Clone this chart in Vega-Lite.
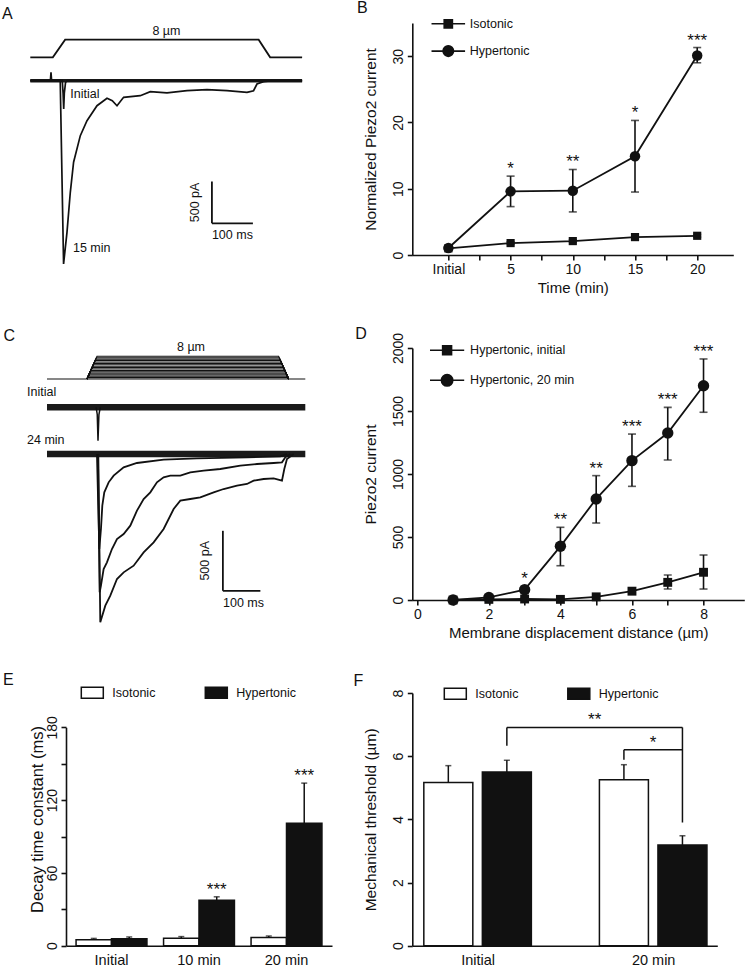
{
  "$schema": "https://vega.github.io/schema/vega-lite/v6.json",
  "background": "white",
  "padding": {"left": 2, "top": 0, "right": 0, "bottom": 0},
  "columns": 2,
  "align": "each",
  "bounds": "flush",
  "spacing": {"row": 20, "column": 80.3},
  "config": {
    "font": "Liberation Sans",
    "view": {"stroke": null},
    "axis": {"grid": false, "domainColor": "#111", "domainWidth": 1.6, "tickColor": "#111", "tickWidth": 1.6, "tickSize": 5, "labelColor": "#111", "labelFontSize": 14, "labelPadding": 2, "titleColor": "#111", "titleFontSize": 15, "titleFontWeight": "normal"},
    "axisY": {"titleFontSize": 15.5},
    "legend": {"labelFontSize": 12.5, "labelColor": "#111", "padding": 0},
    "title": {"fontSize": 16, "fontWeight": "normal", "color": "#111", "anchor": "start", "frame": "group", "offset": 0},
    "text": {"color": "#111"}
  },
  "resolve": {"scale": {"shape": "independent", "fill": "independent", "xOffset": "independent"}},
  "datasets": {
    "A_curr": [
      {"trace": "baseline", "t": 0, "pA": 0}, {"trace": "baseline", "t": 663, "pA": 0},
      {"trace": "Initial", "t": 0, "pA": 0}, {"trace": "Initial", "t": 49, "pA": 0}, {"trace": "Initial", "t": 50.5, "pA": 100}, {"trace": "Initial", "t": 52, "pA": 0},
      {"trace": "Initial", "t": 78, "pA": 0}, {"trace": "Initial", "t": 80, "pA": -150}, {"trace": "Initial", "t": 81.5, "pA": -340}, {"trace": "Initial", "t": 83, "pA": -150},
      {"trace": "Initial", "t": 86, "pA": -20}, {"trace": "Initial", "t": 90, "pA": 0}, {"trace": "Initial", "t": 663, "pA": 0},
      {"trace": "15 min", "t": 0, "pA": 0}, {"trace": "15 min", "t": 73, "pA": 0}, {"trace": "15 min", "t": 81.2, "pA": -2198}, {"trace": "15 min", "t": 89.5, "pA": -1818},
      {"trace": "15 min", "t": 97.6, "pA": -1338}, {"trace": "15 min", "t": 105.6, "pA": -978}, {"trace": "15 min", "t": 122, "pA": -659}, {"trace": "15 min", "t": 138.3, "pA": -480},
      {"trace": "15 min", "t": 162.7, "pA": -300}, {"trace": "15 min", "t": 187.1, "pA": -211}, {"trace": "15 min", "t": 200, "pA": -240}, {"trace": "15 min", "t": 211.5, "pA": -300},
      {"trace": "15 min", "t": 227.6, "pA": -199}, {"trace": "15 min", "t": 268.3, "pA": -180}, {"trace": "15 min", "t": 292.7, "pA": -132}, {"trace": "15 min", "t": 333.4, "pA": -147},
      {"trace": "15 min", "t": 382.2, "pA": -120}, {"trace": "15 min", "t": 431, "pA": -108}, {"trace": "15 min", "t": 479.8, "pA": -120}, {"trace": "15 min", "t": 528.5, "pA": -139},
      {"trace": "15 min", "t": 544.6, "pA": -120}, {"trace": "15 min", "t": 552.9, "pA": -40}, {"trace": "15 min", "t": 569, "pA": -12}, {"trace": "15 min", "t": 590, "pA": 0}, {"trace": "15 min", "t": 663, "pA": 0}
    ],
    "C_stim": [
      {"h": 0, "t": 0, "um": 0}, {"h": 0, "t": 688.8, "um": 0},
      {"h": 0.5, "t": 106.7, "um": 0}, {"h": 0.5, "t": 108.4, "um": 0.5}, {"h": 0.5, "t": 642.6, "um": 0.5}, {"h": 0.5, "t": 644.3, "um": 0},
      {"h": 1, "t": 106.7, "um": 0}, {"h": 1, "t": 110.0, "um": 1}, {"h": 1, "t": 641.0, "um": 1}, {"h": 1, "t": 644.3, "um": 0},
      {"h": 1.5, "t": 106.7, "um": 0}, {"h": 1.5, "t": 111.7, "um": 1.5}, {"h": 1.5, "t": 639.3, "um": 1.5}, {"h": 1.5, "t": 644.3, "um": 0},
      {"h": 2, "t": 106.7, "um": 0}, {"h": 2, "t": 113.4, "um": 2}, {"h": 2, "t": 637.6, "um": 2}, {"h": 2, "t": 644.3, "um": 0},
      {"h": 2.5, "t": 106.7, "um": 0}, {"h": 2.5, "t": 115.0, "um": 2.5}, {"h": 2.5, "t": 636.0, "um": 2.5}, {"h": 2.5, "t": 644.3, "um": 0},
      {"h": 3, "t": 106.7, "um": 0}, {"h": 3, "t": 116.7, "um": 3}, {"h": 3, "t": 634.3, "um": 3}, {"h": 3, "t": 644.3, "um": 0},
      {"h": 3.5, "t": 106.7, "um": 0}, {"h": 3.5, "t": 118.4, "um": 3.5}, {"h": 3.5, "t": 632.6, "um": 3.5}, {"h": 3.5, "t": 644.3, "um": 0},
      {"h": 4, "t": 106.7, "um": 0}, {"h": 4, "t": 120.0, "um": 4}, {"h": 4, "t": 631.0, "um": 4}, {"h": 4, "t": 644.3, "um": 0},
      {"h": 4.5, "t": 106.7, "um": 0}, {"h": 4.5, "t": 121.7, "um": 4.5}, {"h": 4.5, "t": 629.3, "um": 4.5}, {"h": 4.5, "t": 644.3, "um": 0},
      {"h": 5, "t": 106.7, "um": 0}, {"h": 5, "t": 123.4, "um": 5}, {"h": 5, "t": 627.7, "um": 5}, {"h": 5, "t": 644.3, "um": 0},
      {"h": 5.5, "t": 106.7, "um": 0}, {"h": 5.5, "t": 125.0, "um": 5.5}, {"h": 5.5, "t": 626.0, "um": 5.5}, {"h": 5.5, "t": 644.3, "um": 0},
      {"h": 6, "t": 106.7, "um": 0}, {"h": 6, "t": 126.7, "um": 6}, {"h": 6, "t": 624.3, "um": 6}, {"h": 6, "t": 644.3, "um": 0},
      {"h": 6.5, "t": 106.7, "um": 0}, {"h": 6.5, "t": 128.4, "um": 6.5}, {"h": 6.5, "t": 622.7, "um": 6.5}, {"h": 6.5, "t": 644.3, "um": 0},
      {"h": 7, "t": 106.7, "um": 0}, {"h": 7, "t": 130.0, "um": 7}, {"h": 7, "t": 621.0, "um": 7}, {"h": 7, "t": 644.3, "um": 0},
      {"h": 7.5, "t": 106.7, "um": 0}, {"h": 7.5, "t": 131.7, "um": 7.5}, {"h": 7.5, "t": 619.3, "um": 7.5}, {"h": 7.5, "t": 644.3, "um": 0},
      {"h": 8, "t": 106.7, "um": 0}, {"h": 8, "t": 133.3, "um": 8}, {"h": 8, "t": 617.7, "um": 8}, {"h": 8, "t": 644.3, "um": 0}
    ],
    "C_init": [
      {"trace": "baseline", "t": 0, "pA": 0}, {"trace": "baseline", "t": 688.8, "pA": 0},
      {"trace": "dip", "t": 131, "pA": 0}, {"trace": "dip", "t": 134, "pA": -60}, {"trace": "dip", "t": 136, "pA": -278}, {"trace": "dip", "t": 138.5, "pA": -60}, {"trace": "dip", "t": 142, "pA": 0}
    ],
    "C_24": [
      {"trace": "baseline", "t": 0, "pA": 0}, {"trace": "baseline", "t": 688.8, "pA": 0},
      {"trace": "fast", "t": 133.2, "pA": 0}, {"trace": "fast", "t": 139.5, "pA": -791.7}, {"trace": "fast", "t": 143.9, "pA": -625}, {"trace": "fast", "t": 147.5, "pA": -430.6},
      {"trace": "fast", "t": 152.8, "pA": -319.4}, {"trace": "fast", "t": 164.4, "pA": -236.1}, {"trace": "fast", "t": 177.7, "pA": -180.6}, {"trace": "fast", "t": 204.4, "pA": -111.1},
      {"trace": "fast", "t": 239.9, "pA": -75}, {"trace": "fast", "t": 311.0, "pA": -47.2}, {"trace": "fast", "t": 399.9, "pA": -36.1}, {"trace": "fast", "t": 533.3, "pA": -27.8},
      {"trace": "fast", "t": 622.1, "pA": -19.4}, {"trace": "fast", "t": 639.9, "pA": 0},
      {"trace": "medium", "t": 135.9, "pA": 0}, {"trace": "medium", "t": 140.4, "pA": -1152.9}, {"trace": "medium", "t": 143.9, "pA": -1097.3}, {"trace": "medium", "t": 151.0, "pA": -958.4},
      {"trace": "medium", "t": 159.9, "pA": -902.9}, {"trace": "medium", "t": 173.2, "pA": -791.7}, {"trace": "medium", "t": 186.6, "pA": -708.4}, {"trace": "medium", "t": 204.4, "pA": -666.7},
      {"trace": "medium", "t": 222.1, "pA": -597.3}, {"trace": "medium", "t": 239.9, "pA": -472.3}, {"trace": "medium", "t": 257.7, "pA": -375}, {"trace": "medium", "t": 275.5, "pA": -319.5},
      {"trace": "medium", "t": 293.2, "pA": -236.1}, {"trace": "medium", "t": 311.0, "pA": -194.5}, {"trace": "medium", "t": 328.8, "pA": -180.6}, {"trace": "medium", "t": 355.5, "pA": -180.6},
      {"trace": "medium", "t": 382.1, "pA": -152.8}, {"trace": "medium", "t": 417.7, "pA": -138.9}, {"trace": "medium", "t": 462.1, "pA": -125}, {"trace": "medium", "t": 515.5, "pA": -97.2},
      {"trace": "medium", "t": 559.9, "pA": -83.4}, {"trace": "medium", "t": 604.4, "pA": -75}, {"trace": "medium", "t": 626.6, "pA": -69.5}, {"trace": "medium", "t": 635.5, "pA": -27.8}, {"trace": "medium", "t": 648.8, "pA": 0},
      {"trace": "slow", "t": 136.8, "pA": 0}, {"trace": "slow", "t": 142.1, "pA": -1402.9}, {"trace": "slow", "t": 155.5, "pA": -1264}, {"trace": "slow", "t": 168.8, "pA": -1180.7},
      {"trace": "slow", "t": 186.6, "pA": -1041.8}, {"trace": "slow", "t": 204.4, "pA": -986.2}, {"trace": "slow", "t": 231.0, "pA": -930.6}, {"trace": "slow", "t": 257.7, "pA": -819.5},
      {"trace": "slow", "t": 284.4, "pA": -736.2}, {"trace": "slow", "t": 311.0, "pA": -625}, {"trace": "slow", "t": 337.7, "pA": -458.4}, {"trace": "slow", "t": 355.5, "pA": -389},
      {"trace": "slow", "t": 382.1, "pA": -375}, {"trace": "slow", "t": 408.8, "pA": -361.2}, {"trace": "slow", "t": 444.4, "pA": -319.5}, {"trace": "slow", "t": 471.0, "pA": -291.7},
      {"trace": "slow", "t": 506.6, "pA": -263.9}, {"trace": "slow", "t": 533.3, "pA": -250}, {"trace": "slow", "t": 551.0, "pA": -222.3}, {"trace": "slow", "t": 577.7, "pA": -208.4},
      {"trace": "slow", "t": 604.4, "pA": -202.8}, {"trace": "slow", "t": 626.6, "pA": -222.3}, {"trace": "slow", "t": 632.8, "pA": -125}, {"trace": "slow", "t": 639.9, "pA": -41.7}, {"trace": "slow", "t": 657.7, "pA": 0}
    ],
    "B_rows": [
      {"time": 0, "series": "Isotonic", "mean": 1.0, "lo": 0.85, "hi": 1.15, "sig": ""},
      {"time": 5, "series": "Isotonic", "mean": 1.8, "lo": 1.6, "hi": 2.0, "sig": ""},
      {"time": 10, "series": "Isotonic", "mean": 2.1, "lo": 1.9, "hi": 2.3, "sig": ""},
      {"time": 15, "series": "Isotonic", "mean": 2.7, "lo": 2.5, "hi": 2.9, "sig": ""},
      {"time": 20, "series": "Isotonic", "mean": 2.9, "lo": 2.7, "hi": 3.1, "sig": ""},
      {"time": 0, "series": "Hypertonic", "mean": 1.05, "lo": 0.9, "hi": 1.2, "sig": ""},
      {"time": 5, "series": "Hypertonic", "mean": 9.6, "lo": 7.3, "hi": 11.9, "sig": "*"},
      {"time": 10, "series": "Hypertonic", "mean": 9.7, "lo": 6.5, "hi": 12.9, "sig": "**"},
      {"time": 15, "series": "Hypertonic", "mean": 14.9, "lo": 9.5, "hi": 20.3, "sig": "*"},
      {"time": 20, "series": "Hypertonic", "mean": 30.1, "lo": 29.0, "hi": 31.3, "sig": "***"}
    ],
    "D_rows": [
      {"dist": 1, "series": "Hypertonic, initial", "mean": 0, "lo": 0, "hi": 0, "sig": ""},
      {"dist": 2, "series": "Hypertonic, initial", "mean": 5, "lo": 0, "hi": 10, "sig": ""},
      {"dist": 3, "series": "Hypertonic, initial", "mean": 8, "lo": 0, "hi": 15, "sig": ""},
      {"dist": 4, "series": "Hypertonic, initial", "mean": 5, "lo": 0, "hi": 12, "sig": ""},
      {"dist": 5, "series": "Hypertonic, initial", "mean": 25, "lo": 10, "hi": 40, "sig": ""},
      {"dist": 6, "series": "Hypertonic, initial", "mean": 70, "lo": 50, "hi": 90, "sig": ""},
      {"dist": 7, "series": "Hypertonic, initial", "mean": 140, "lo": 87, "hi": 198, "sig": ""},
      {"dist": 8, "series": "Hypertonic, initial", "mean": 220, "lo": 87, "hi": 357, "sig": ""},
      {"dist": 1, "series": "Hypertonic, 20 min", "mean": 0, "lo": 0, "hi": 0, "sig": ""},
      {"dist": 2, "series": "Hypertonic, 20 min", "mean": 20, "lo": 5, "hi": 35, "sig": ""},
      {"dist": 3, "series": "Hypertonic, 20 min", "mean": 82, "lo": 55, "hi": 110, "sig": "*"},
      {"dist": 4, "series": "Hypertonic, 20 min", "mean": 426, "lo": 272, "hi": 577, "sig": "**"},
      {"dist": 5, "series": "Hypertonic, 20 min", "mean": 802, "lo": 611, "hi": 987, "sig": "**"},
      {"dist": 6, "series": "Hypertonic, 20 min", "mean": 1106, "lo": 902, "hi": 1317, "sig": "***"},
      {"dist": 7, "series": "Hypertonic, 20 min", "mean": 1325, "lo": 1111, "hi": 1529, "sig": "***"},
      {"dist": 8, "series": "Hypertonic, 20 min", "mean": 1701, "lo": 1490, "hi": 1913, "sig": "***"}
    ],
    "F_rows": [
      {"group": "Initial", "series": "Isotonic", "pos": 1, "mean": 5.17, "hi": 5.7},
      {"group": "Initial", "series": "Hypertonic", "pos": 2, "mean": 5.5, "hi": 5.87},
      {"group": "20 min", "series": "Isotonic", "pos": 4, "mean": 5.25, "hi": 5.73},
      {"group": "20 min", "series": "Hypertonic", "pos": 5, "mean": 3.19, "hi": 3.48}
    ]
  },
  "concat": [
    {
      "width": 266, "height": 305,
      "title": {"text": "A", "dx": -64, "dy": 3},
      "resolve": {"scale": {"y": "independent"}},
      "layer": [
        {
          "layer": [
            {"data": {"values": [{"t": 0, "um": 0}, {"t": 55, "um": 0}, {"t": 85, "um": 8}, {"t": 557, "um": 8}, {"t": 585, "um": 0}, {"t": 663, "um": 0}]},
             "mark": {"type": "line", "color": "#111", "strokeWidth": 1.8},
             "encoding": {"x": {"field": "t", "type": "quantitative", "scale": {"domain": [87.1, 735.9], "nice": false, "zero": false}, "axis": null},
                          "y": {"field": "um", "type": "quantitative", "scale": {"domain": [-123.05, 15.59], "nice": false, "zero": false}, "axis": null}}},
            {"data": {"values": [{"t": 332, "um": 12.1, "label": "8 µm"}]},
             "mark": {"type": "text", "fontSize": 12.5, "align": "center", "baseline": "middle"},
             "encoding": {"x": {"field": "t", "type": "quantitative"}, "y": {"field": "um", "type": "quantitative"}, "text": {"field": "label"}}}
          ]
        },
        {
          "layer": [
            {"data": {"name": "A_curr"}, "transform": [{"filter": "datum.trace === 'baseline'"}],
             "mark": {"type": "line", "color": "#1a1a1a", "strokeWidth": 3.5},
             "encoding": {"x": {"field": "t", "type": "quantitative"},
                          "y": {"field": "pA", "type": "quantitative", "scale": {"domain": [-2965.2, 691.8], "nice": false, "zero": false}, "axis": null}}},
            {"data": {"name": "A_curr"}, "transform": [{"filter": "datum.trace !== 'baseline'"}],
             "mark": {"type": "line", "color": "#111", "strokeWidth": 1.7},
             "encoding": {"x": {"field": "t", "type": "quantitative"}, "y": {"field": "pA", "type": "quantitative"}, "detail": {"field": "trace"}}},
            {"data": {"values": [{"t": 443, "t2": 443, "pA": -1210, "pA2": -1710}, {"t": 443, "t2": 543, "pA": -1710, "pA2": -1710}]},
             "mark": {"type": "rule", "color": "#111", "strokeWidth": 1.8},
             "encoding": {"x": {"field": "t", "type": "quantitative"}, "x2": {"field": "t2"}, "y": {"field": "pA", "type": "quantitative"}, "y2": {"field": "pA2"}}},
            {"data": {"values": [{"t": 97.6, "pA": -160, "label": "Initial"}, {"t": 104, "pA": -2006, "label": "15 min"}]},
             "mark": {"type": "text", "fontSize": 12.5, "align": "left", "baseline": "middle"},
             "encoding": {"x": {"field": "t", "type": "quantitative"}, "y": {"field": "pA", "type": "quantitative"}, "text": {"field": "label"}}},
            {"data": {"values": [{"t": 419.5, "pA": -1460, "label": "500 pA"}]},
             "mark": {"type": "text", "fontSize": 12.5, "angle": 270, "align": "center", "baseline": "bottom"},
             "encoding": {"x": {"field": "t", "type": "quantitative"}, "y": {"field": "pA", "type": "quantitative"}, "text": {"field": "label"}}},
            {"data": {"values": [{"t": 493, "pA": -1710, "label": "100 ms"}]},
             "mark": {"type": "text", "fontSize": 12.5, "align": "center", "baseline": "top", "dy": 6},
             "encoding": {"x": {"field": "t", "type": "quantitative"}, "y": {"field": "pA", "type": "quantitative"}, "text": {"field": "label"}}}
          ]
        }
      ]
    },
    {
      "width": 321, "height": 232,
      "title": {"text": "B", "dx": -55.3, "dy": 3},
      "data": {"name": "B_rows"},
      "resolve": {"scale": {"fill": "independent"}},
      "encoding": {
        "x": {"field": "time", "type": "quantitative", "title": "Time (min)", "scale": {"domain": [-2.5, 22.5], "nice": false, "zero": false},
              "axis": {"values": [0, 2.5, 5, 7.5, 10, 12.5, 15, 17.5, 20], "labelExpr": "datum.value == 0 ? 'Initial' : (datum.value % 5 == 0 ? datum.label : '')", "labelFlush": false, "titlePadding": 4}}
      },
      "layer": [
        {"mark": {"type": "rule", "color": "#111", "strokeWidth": 1.6},
         "encoding": {"y": {"field": "lo", "type": "quantitative", "title": "Normalized Piezo2 current", "scale": {"domain": [0, 35], "nice": false},
                            "axis": {"values": [0, 5, 10, 15, 20, 25, 30, 35], "labelExpr": "datum.value % 10 == 0 ? datum.label : ''", "labelAngle": -90, "titlePadding": 13}},
                      "y2": {"field": "hi"}}},
        {"mark": {"type": "tick", "orient": "horizontal", "color": "#111", "size": 8, "thickness": 1.6},
         "encoding": {"y": {"field": "hi", "type": "quantitative", "title": "Normalized Piezo2 current"}}},
        {"mark": {"type": "tick", "orient": "horizontal", "color": "#111", "size": 8, "thickness": 1.6},
         "encoding": {"y": {"field": "lo", "type": "quantitative", "title": "Normalized Piezo2 current"}}},
        {"mark": {"type": "line", "color": "#111", "strokeWidth": 1.8},
         "encoding": {"y": {"field": "mean", "type": "quantitative", "title": "Normalized Piezo2 current"}, "detail": {"field": "series"}}},
        {"mark": {"type": "point", "filled": true, "opacity": 1, "color": "#111", "size": 110},
         "encoding": {"y": {"field": "mean", "type": "quantitative", "title": "Normalized Piezo2 current"},
                      "shape": {"field": "series", "type": "nominal", "scale": {"domain": ["Isotonic", "Hypertonic"], "range": ["M-0.78,-0.78H0.78V0.78H-0.78Z", "circle"]}, "legend": null}}},
        {"transform": [{"filter": "false"}],
         "mark": {"type": "bar", "stroke": "#111", "strokeWidth": 1.6},
         "encoding": {"y": {"field": "mean", "type": "quantitative", "title": "Normalized Piezo2 current"},
                      "fill": {"field": "series", "type": "nominal", "scale": {"domain": ["Isotonic"], "range": ["#111"]},
                               "legend": {"orient": "none", "legendX": 29.5, "legendY": -5.7, "title": null, "symbolType": "M-3.2,0H3.2M-0.78,-0.78H0.78V0.78H-0.78Z", "symbolSize": 110,
                                          "symbolStrokeColor": "#111", "symbolStrokeWidth": 1.6, "symbolOpacity": 1, "labelOffset": 15}}}},
        {"transform": [{"filter": "false"}],
         "mark": {"type": "bar", "stroke": "#111", "strokeWidth": 1.6},
         "encoding": {"y": {"field": "mean", "type": "quantitative", "title": "Normalized Piezo2 current"},
                      "fill": {"field": "series", "type": "nominal", "scale": {"domain": ["Hypertonic"], "range": ["#111"]},
                               "legend": {"orient": "none", "legendX": 29.5, "legendY": 21.6, "title": null, "symbolType": "M-3.2,0H3.2M1,0A1,1,0,1,1,-1,0A1,1,0,1,1,1,0Z", "symbolSize": 110,
                                          "symbolStrokeColor": "#111", "symbolStrokeWidth": 1.6, "symbolOpacity": 1, "labelOffset": 15}}}},
        {"mark": {"type": "text", "fontSize": 17, "baseline": "alphabetic", "dy": -2},
         "encoding": {"y": {"field": "hi", "type": "quantitative", "title": "Normalized Piezo2 current"}, "text": {"field": "sig"}}}
      ]
    },
    {
      "width": 266, "height": 325,
      "title": {"text": "C", "dx": -62.4, "dy": 7},
      "resolve": {"scale": {"y": "independent"}},
      "layer": [
        {
          "layer": [
            {"data": {"name": "C_stim"},
             "mark": {"type": "line", "color": "#111", "strokeWidth": 1.1},
             "encoding": {"x": {"field": "t", "type": "quantitative", "scale": {"domain": [50.67, 760], "nice": false, "zero": false}, "axis": null},
                          "y": {"field": "um", "type": "quantitative", "scale": {"domain": [-103.52, 10.915], "nice": false, "zero": false}, "axis": null},
                          "detail": {"field": "h"}}},
            {"data": {"values": [{"t": 384, "um": 11.16, "label": "8 µm"}]},
             "mark": {"type": "text", "fontSize": 12.5, "align": "center", "baseline": "middle"},
             "encoding": {"x": {"field": "t", "type": "quantitative"}, "y": {"field": "um", "type": "quantitative"}, "text": {"field": "label"}}}
          ]
        },
        {
          "layer": [
            {"data": {"name": "C_init"}, "transform": [{"filter": "datum.trace === 'baseline'"}],
             "mark": {"type": "line", "color": "#1a1a1a", "strokeWidth": 6.5},
             "encoding": {"x": {"field": "t", "type": "quantitative"},
                          "y": {"field": "pA", "type": "quantitative", "scale": {"domain": [-2214.17, 494.17], "nice": false, "zero": false}, "axis": null}}},
            {"data": {"name": "C_init"}, "transform": [{"filter": "datum.trace !== 'baseline'"}],
             "mark": {"type": "line", "color": "#111", "strokeWidth": 1.5},
             "encoding": {"x": {"field": "t", "type": "quantitative"}, "y": {"field": "pA", "type": "quantitative"}}},
            {"data": {"values": [{"t": -53.3, "pA": 125, "label": "Initial"}]},
             "mark": {"type": "text", "fontSize": 12.5, "align": "left", "baseline": "middle"},
             "encoding": {"x": {"field": "t", "type": "quantitative"}, "y": {"field": "pA", "type": "quantitative"}, "text": {"field": "label"}}}
          ]
        },
        {
          "layer": [
            {"data": {"name": "C_24"}, "transform": [{"filter": "datum.trace === 'baseline'"}],
             "mark": {"type": "line", "color": "#1a1a1a", "strokeWidth": 6.5},
             "encoding": {"x": {"field": "t", "type": "quantitative"},
                          "y": {"field": "pA", "type": "quantitative", "scale": {"domain": [-1825, 883.33], "nice": false, "zero": false}, "axis": null}}},
            {"data": {"name": "C_24"}, "transform": [{"filter": "datum.trace !== 'baseline'"}],
             "mark": {"type": "line", "color": "#111", "strokeWidth": 1.8},
             "encoding": {"x": {"field": "t", "type": "quantitative"}, "y": {"field": "pA", "type": "quantitative"}, "detail": {"field": "trace"}}},
            {"data": {"values": [{"t": 469, "t2": 469, "pA": -640, "pA2": -1140}, {"t": 469, "t2": 569, "pA": -1140, "pA2": -1140}]},
             "mark": {"type": "rule", "color": "#111", "strokeWidth": 1.8},
             "encoding": {"x": {"field": "t", "type": "quantitative"}, "x2": {"field": "t2"}, "y": {"field": "pA", "type": "quantitative"}, "y2": {"field": "pA2"}}},
            {"data": {"values": [{"t": -53.3, "pA": 119, "label": "24 min"}]},
             "mark": {"type": "text", "fontSize": 12.5, "align": "left", "baseline": "middle"},
             "encoding": {"x": {"field": "t", "type": "quantitative"}, "y": {"field": "pA", "type": "quantitative"}, "text": {"field": "label"}}},
            {"data": {"values": [{"t": 441, "pA": -890, "label": "500 pA"}]},
             "mark": {"type": "text", "fontSize": 12.5, "angle": 270, "align": "center", "baseline": "bottom"},
             "encoding": {"x": {"field": "t", "type": "quantitative"}, "y": {"field": "pA", "type": "quantitative"}, "text": {"field": "label"}}},
            {"data": {"values": [{"t": 524, "pA": -1140, "label": "100 ms"}]},
             "mark": {"type": "text", "fontSize": 12.5, "align": "center", "baseline": "top", "dy": 6},
             "encoding": {"x": {"field": "t", "type": "quantitative"}, "y": {"field": "pA", "type": "quantitative"}, "text": {"field": "label"}}}
          ]
        }
      ]
    },
    {
      "width": 332, "height": 252,
      "title": {"text": "D", "dx": -57, "dy": 13.5},
      "data": {"name": "D_rows"},
      "resolve": {"scale": {"fill": "independent"}},
      "encoding": {
        "x": {"field": "dist", "type": "quantitative", "title": "Membrane displacement distance (µm)", "scale": {"domain": [0, 9], "nice": false, "zero": false},
              "axis": {"values": [0, 1, 2, 3, 4, 5, 6, 7, 8], "labelExpr": "datum.value % 2 == 0 ? datum.label : ''", "labelFlush": false, "titlePadding": 4}}
      },
      "layer": [
        {"mark": {"type": "rule", "color": "#111", "strokeWidth": 1.6},
         "encoding": {"y": {"field": "lo", "type": "quantitative", "title": "Piezo2 current", "scale": {"domain": [0, 2000], "nice": false},
                            "axis": {"values": [0, 250, 500, 750, 1000, 1250, 1500, 1750, 2000], "format": "d", "labelExpr": "datum.value % 500 == 0 ? datum.label : ''", "labelAngle": -90, "titlePadding": 13}},
                      "y2": {"field": "hi"}}},
        {"mark": {"type": "tick", "orient": "horizontal", "color": "#111", "size": 8, "thickness": 1.6},
         "encoding": {"y": {"field": "hi", "type": "quantitative", "title": "Piezo2 current"}}},
        {"mark": {"type": "tick", "orient": "horizontal", "color": "#111", "size": 8, "thickness": 1.6},
         "encoding": {"y": {"field": "lo", "type": "quantitative", "title": "Piezo2 current"}}},
        {"mark": {"type": "line", "color": "#111", "strokeWidth": 1.8},
         "encoding": {"y": {"field": "mean", "type": "quantitative", "title": "Piezo2 current"}, "detail": {"field": "series"}}},
        {"mark": {"type": "point", "filled": true, "opacity": 1, "color": "#111", "size": 130},
         "encoding": {"y": {"field": "mean", "type": "quantitative", "title": "Piezo2 current"},
                      "shape": {"field": "series", "type": "nominal", "scale": {"domain": ["Hypertonic, initial", "Hypertonic, 20 min"], "range": ["M-0.78,-0.78H0.78V0.78H-0.78Z", "circle"]}, "legend": null}}},
        {"transform": [{"filter": "false"}],
         "mark": {"type": "bar", "stroke": "#111", "strokeWidth": 1.6},
         "encoding": {"y": {"field": "mean", "type": "quantitative", "title": "Piezo2 current"},
                      "fill": {"field": "series", "type": "nominal", "scale": {"domain": ["Hypertonic, initial"], "range": ["#111"]},
                               "legend": {"orient": "none", "legendX": 27.8, "legendY": -4.7, "title": null, "symbolType": "M-3,0H3M-0.78,-0.78H0.78V0.78H-0.78Z", "symbolSize": 130,
                                          "symbolStrokeColor": "#111", "symbolStrokeWidth": 1.6, "symbolOpacity": 1, "labelOffset": 16}}}},
        {"transform": [{"filter": "false"}],
         "mark": {"type": "bar", "stroke": "#111", "strokeWidth": 1.6},
         "encoding": {"y": {"field": "mean", "type": "quantitative", "title": "Piezo2 current"},
                      "fill": {"field": "series", "type": "nominal", "scale": {"domain": ["Hypertonic, 20 min"], "range": ["#111"]},
                               "legend": {"orient": "none", "legendX": 27.8, "legendY": 25.3, "title": null, "symbolType": "M-3,0H3M1,0A1,1,0,1,1,-1,0A1,1,0,1,1,1,0Z", "symbolSize": 130,
                                          "symbolStrokeColor": "#111", "symbolStrokeWidth": 1.6, "symbolOpacity": 1, "labelOffset": 16}}}},
        {"mark": {"type": "text", "fontSize": 17, "baseline": "alphabetic", "dy": -2},
         "encoding": {"y": {"field": "hi", "type": "quantitative", "title": "Piezo2 current"}, "text": {"field": "sig"}}}
      ]
    },
    {
      "width": 266, "height": 252.7,
      "title": {"text": "E", "dx": -63, "dy": 11.5},
      "data": {"values": [
        {"group": "Initial", "series": "Isotonic", "mean": 5.0, "hi": 6.0, "sig": ""},
        {"group": "Initial", "series": "Hypertonic", "mean": 5.8, "hi": 7.2, "sig": ""},
        {"group": "10 min", "series": "Isotonic", "mean": 6.2, "hi": 7.5, "sig": ""},
        {"group": "10 min", "series": "Hypertonic", "mean": 37.5, "hi": 40.3, "sig": "***"},
        {"group": "20 min", "series": "Isotonic", "mean": 6.8, "hi": 8.0, "sig": ""},
        {"group": "20 min", "series": "Hypertonic", "mean": 101, "hi": 134, "sig": "***"}
      ]},
      "encoding": {
        "x": {"field": "group", "type": "nominal", "sort": ["Initial", "10 min", "20 min"], "scale": {"paddingInner": 0.19, "paddingOuter": 0.115},
              "axis": {"title": null, "labelAngle": 0, "ticks": false, "labelPadding": 8, "labelFontSize": 14.5}},
        "xOffset": {"field": "series", "type": "nominal", "sort": ["Isotonic", "Hypertonic"], "scale": {"paddingInner": 0, "paddingOuter": 0}}
      },
      "layer": [
        {"mark": {"type": "bar", "stroke": "#111", "strokeWidth": 1.5},
         "encoding": {"y": {"field": "mean", "type": "quantitative", "title": "Decay time constant (ms)", "scale": {"domain": [0, 180], "nice": false, "rangeMax": 34.3},
                            "axis": {"values": [0, 30, 60, 90, 120, 150, 180], "labelExpr": "datum.value % 60 == 0 ? datum.label : ''", "labelAngle": -90, "titlePadding": 0, "titleFontSize": 16.5, "titleY": 126}},
                      "fill": {"field": "series", "type": "nominal", "scale": {"domain": ["Isotonic", "Hypertonic"], "range": ["white", "#111"]},
                               "legend": {"orient": "none", "legendX": 14.3, "legendY": -12.5, "title": null, "direction": "horizontal", "symbolType": "M-1,-0.5H1V0.5H-1Z", "symbolSize": 484,
                                          "symbolStrokeColor": "#111", "symbolStrokeWidth": 1.5, "labelOffset": 8, "columnPadding": 46}}}},
        {"mark": {"type": "rule", "color": "#111", "strokeWidth": 1.5},
         "encoding": {"y": {"field": "mean", "type": "quantitative", "title": "Decay time constant (ms)"}, "y2": {"field": "hi"}}},
        {"mark": {"type": "tick", "orient": "horizontal", "color": "#111", "size": 6, "thickness": 1.5},
         "encoding": {"y": {"field": "hi", "type": "quantitative", "title": "Decay time constant (ms)"}}},
        {"mark": {"type": "text", "fontSize": 17, "baseline": "alphabetic", "dy": -2},
         "encoding": {"y": {"field": "hi", "type": "quantitative", "title": "Decay time constant (ms)"}, "text": {"field": "sig"}}}
      ]
    },
    {
      "width": 305, "height": 252.7,
      "title": {"text": "F", "dx": -58.7, "dy": 11.5},
      "layer": [
        {"data": {"name": "F_rows"},
         "mark": {"type": "bar", "width": 49, "stroke": "#111", "strokeWidth": 1.5},
         "encoding": {"x": {"field": "pos", "type": "quantitative", "scale": {"domain": [0.47, 5.51], "nice": false, "zero": false},
                            "axis": {"values": [1.5, 4.5], "labelExpr": "datum.value < 3 ? 'Initial' : '20 min'", "ticks": false, "title": null, "labelPadding": 8, "labelFontSize": 14.5, "labelFlush": false}},
                      "y": {"field": "mean", "type": "quantitative", "title": "Mechanical threshold (µm)", "scale": {"domain": [0, 8], "nice": false},
                            "axis": {"values": [0, 1, 2, 3, 4, 5, 6, 7, 8], "labelExpr": "datum.value % 2 == 0 ? datum.label : ''", "labelAngle": -90, "titlePadding": 13}},
                      "y2": {"datum": 0},
                      "fill": {"field": "series", "type": "nominal", "scale": {"domain": ["Isotonic", "Hypertonic"], "range": ["white", "#111"]},
                               "legend": {"orient": "none", "legendX": 31, "legendY": -11.5, "title": null, "direction": "horizontal", "symbolType": "M-1,-0.5H1V0.5H-1Z", "symbolSize": 484,
                                          "symbolStrokeColor": "#111", "symbolStrokeWidth": 1.5, "labelOffset": 8, "columnPadding": 45.5}}}},
        {"data": {"name": "F_rows"},
         "mark": {"type": "rule", "color": "#111", "strokeWidth": 1.5},
         "encoding": {"x": {"field": "pos", "type": "quantitative"}, "y": {"field": "mean", "type": "quantitative", "title": "Mechanical threshold (µm)"}, "y2": {"field": "hi"}}},
        {"data": {"name": "F_rows"},
         "mark": {"type": "tick", "orient": "horizontal", "color": "#111", "size": 6, "thickness": 1.5},
         "encoding": {"x": {"field": "pos", "type": "quantitative"}, "y": {"field": "hi", "type": "quantitative", "title": "Mechanical threshold (µm)"}}},
        {"data": {"values": [
            {"x": 2, "x2": 5, "y": 6.91, "y2": 6.91}, {"x": 2, "x2": 2, "y": 6.33, "y2": 6.91}, {"x": 5, "x2": 5, "y": 3.9, "y2": 6.91},
            {"x": 4, "x2": 5, "y": 6.2, "y2": 6.2}, {"x": 4, "x2": 4, "y": 5.89, "y2": 6.2}]},
         "mark": {"type": "rule", "color": "#111", "strokeWidth": 1.5},
         "encoding": {"x": {"field": "x", "type": "quantitative"}, "x2": {"field": "x2"}, "y": {"field": "y", "type": "quantitative", "title": "Mechanical threshold (µm)"}, "y2": {"field": "y2"}}},
        {"data": {"values": [{"x": 3.5, "y": 6.91, "label": "**"}, {"x": 4.5, "y": 6.2, "label": "*"}]},
         "mark": {"type": "text", "fontSize": 17, "baseline": "alphabetic", "dy": -2},
         "encoding": {"x": {"field": "x", "type": "quantitative"}, "y": {"field": "y", "type": "quantitative", "title": "Mechanical threshold (µm)"}, "text": {"field": "label"}}}
      ]
    }
  ]
}
